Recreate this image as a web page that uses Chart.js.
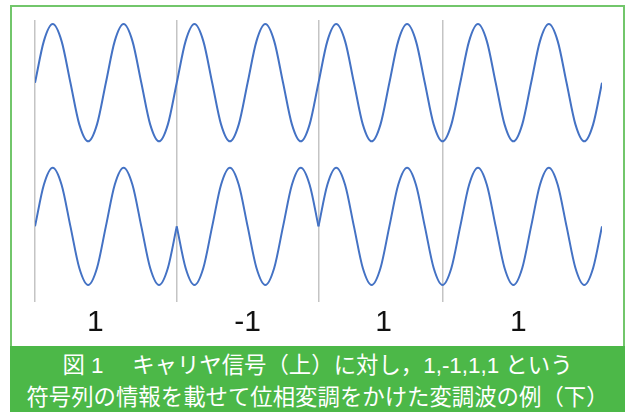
<!DOCTYPE html>
<html>
<head>
<meta charset="utf-8">
<script src="https://cdn.jsdelivr.net/npm/chart.js@4/dist/chart.umd.min.js"></script>
<style>
  body { margin: 0; width: 625px; height: 412px; overflow: hidden; background: #fff; position: relative; }
  #frame { position: absolute; left: 10px; top: 5px; width: 611px; height: 345px; border: 2px solid #72c66b; border-bottom: none; background: #fff; }
  #chart { position: absolute; left: 0; top: 0; }
  #caption { position: absolute; left: 10px; top: 346px; width: 615px; height: 66px; background: #4cb848; color: #fff;
             font-family: "Liberation Sans", "Noto Sans CJK JP", sans-serif; font-size: 22.4px; text-align: center; }
  #caption div { position: absolute; left: 0; width: 100%; height: 32px; line-height: 32px; white-space: nowrap; }
</style>
</head>
<body>
<div id="frame"></div>
<canvas id="chart" width="625" height="346"></canvas>
<div id="caption">
  <div style="top: 4px;">図 1　 キャリヤ信号（上）に対し，1,-1,1,1 という</div>
  <div style="top: 36px;">符号列の情報を載せて位相変調をかけた変調波の例（下）</div>
</div>
<script>
// time in carrier periods, read every 1/8 period
const sampleX = [
  0, 0.125, 0.25, 0.375, 0.5, 0.625, 0.75, 0.875,
  1, 1.125, 1.25, 1.375, 1.5, 1.625, 1.75, 1.875,
  2, 2.125, 2.25, 2.375, 2.5, 2.625, 2.75, 2.875,
  3, 3.125, 3.25, 3.375, 3.5, 3.625, 3.75, 3.875,
  4, 4.125, 4.25, 4.375, 4.5, 4.625, 4.75, 4.875,
  5, 5.125, 5.25, 5.375, 5.5, 5.625, 5.75, 5.875,
  6, 6.125, 6.25, 6.375, 6.5, 6.625, 6.75, 6.875,
  7, 7.125, 7.25, 7.375, 7.5, 7.625, 7.75, 7.875,
  8
];

// carrier (top)
const carrierY = [
  0, 0.71, 1, 0.71, 0, -0.71, -1, -0.71,
  0, 0.71, 1, 0.71, 0, -0.71, -1, -0.71,
  0, 0.71, 1, 0.71, 0, -0.71, -1, -0.71,
  0, 0.71, 1, 0.71, 0, -0.71, -1, -0.71,
  0, 0.71, 1, 0.71, 0, -0.71, -1, -0.71,
  0, 0.71, 1, 0.71, 0, -0.71, -1, -0.71,
  0, 0.71, 1, 0.71, 0, -0.71, -1, -0.71,
  0, 0.71, 1, 0.71, 0, -0.71, -1, -0.71,
  0
];

// phase modulated wave (bottom), code 1,-1,1,1
const modulatedY = [
  0, 0.71, 1, 0.71, 0, -0.71, -1, -0.71,
  0, 0.71, 1, 0.71, 0, -0.71, -1, -0.71,
  0, -0.71, -1, -0.71, 0, 0.71, 1, 0.71,
  0, -0.71, -1, -0.71, 0, 0.71, 1, 0.71,
  0, 0.71, 1, 0.71, 0, -0.71, -1, -0.71,
  0, 0.71, 1, 0.71, 0, -0.71, -1, -0.71,
  0, 0.71, 1, 0.71, 0, -0.71, -1, -0.71,
  0, 0.71, 1, 0.71, 0, -0.71, -1, -0.71,
  0
];

const symbols = ['1', '-1', '1', '1'];
const symbolLabelX = [0.85, 3.0, 4.92, 6.82];
const boundaryX = [0, 2, 4, 5.75];
const phaseJumpX = [2, 4];

const TOP_OFFSET = 2.45;
const lineColor = '#4472c4';

function toPoints(ys, from, to, offset) {
  return sampleX
    .map((x, i) => ({ x: x, y: ys[i] + offset }))
    .filter(p => p.x >= from && p.x <= to);
}

const datasets = [];
datasets.push({ data: toPoints(carrierY, 0, 8, TOP_OFFSET) });

// split the bottom wave where the phase jumps so the corners stay sharp
const edges = [0, ...phaseJumpX, 8];
for (let i = 0; i < edges.length - 1; i++) {
  datasets.push({ data: toPoints(modulatedY, edges[i], edges[i + 1], 0) });
}
datasets.forEach(ds => {
  ds.borderColor = lineColor;
  ds.borderWidth = 2;
  ds.pointRadius = 0;
  ds.fill = false;
  ds.cubicInterpolationMode = 'monotone';
});

new Chart(document.getElementById('chart').getContext('2d'), {
  type: 'line',
  data: { datasets: datasets },
  options: {
    responsive: false,
    animation: false,
    layout: { padding: { left: 35, right: 23, top: 20, bottom: 0 } },
    plugins: { legend: { display: false }, tooltip: { enabled: false } },
    scales: {
      x: {
        type: 'linear', min: 0, max: 8,
        afterBuildTicks: axis => { axis.ticks = boundaryX.map(v => ({ value: v })); },
        afterFit: axis => { axis.height = 0; },
        grid: { color: '#c4c4c4', lineWidth: 1.5, drawTicks: false },
        border: { display: false },
        ticks: { display: false }
      },
      xLabel: {
        type: 'linear', position: 'bottom', min: 0, max: 8,
        afterBuildTicks: axis => { axis.ticks = symbolLabelX.map(v => ({ value: v })); },
        afterFit: axis => { axis.height = 44; },
        grid: { display: false, drawTicks: false },
        border: { display: false },
        ticks: {
          autoSkip: false, maxRotation: 0, padding: 3,
          color: '#111',
          font: { family: 'Arial, "Liberation Sans", sans-serif', size: 30 },
          callback: (value, index) => symbols[index]
        }
      },
      y: { display: false, min: -1.29, max: 3.52 }
    }
  }
});
</script>
</body>
</html>
